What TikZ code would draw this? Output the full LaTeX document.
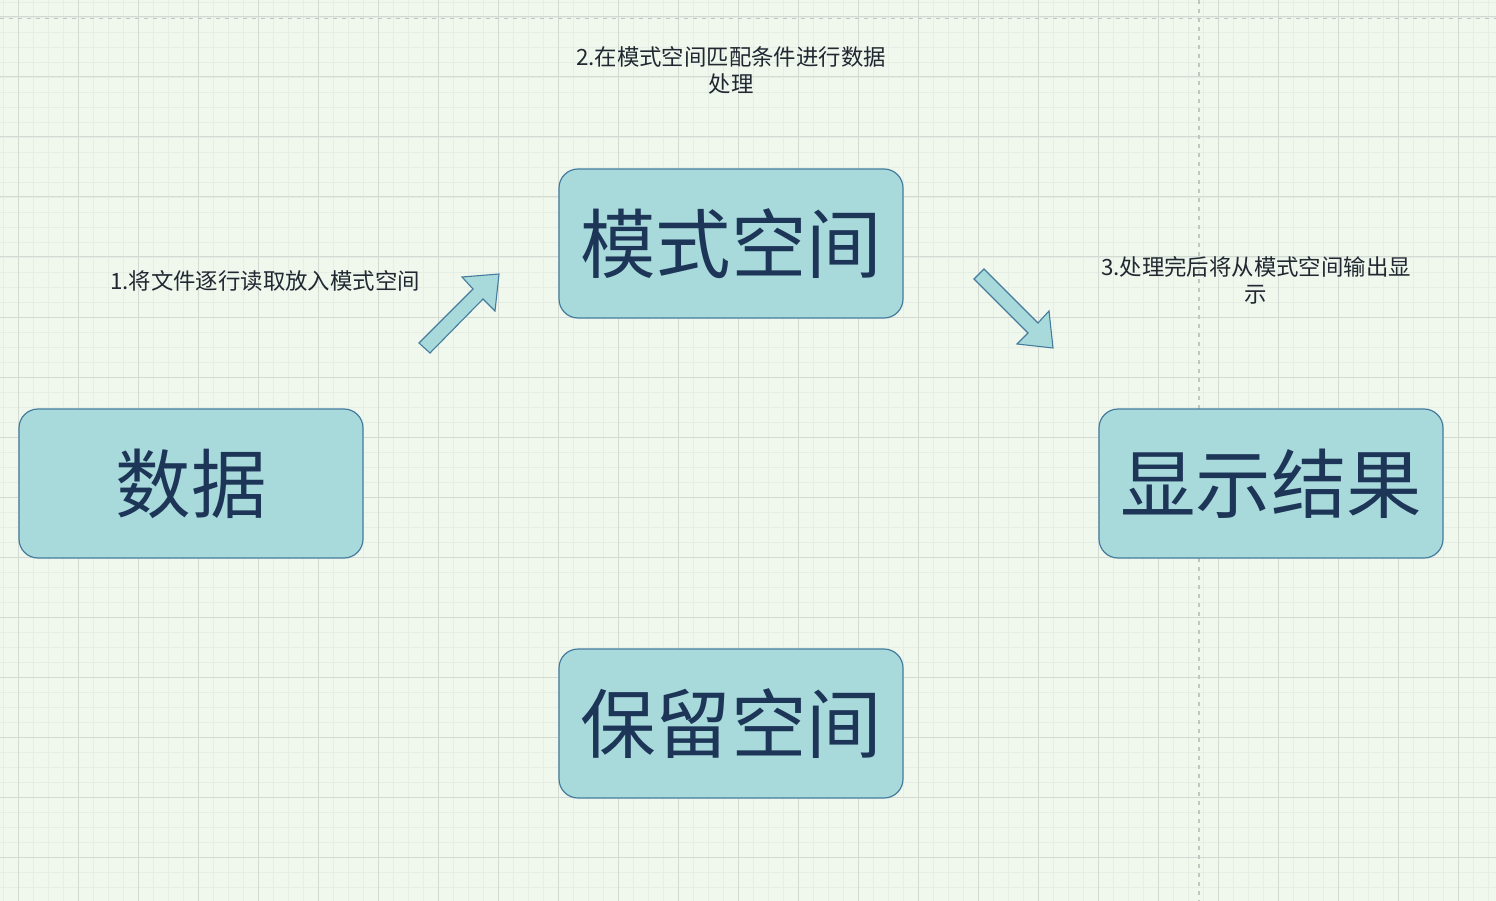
\documentclass[tikz,border=0pt]{standalone}
\usepackage{fontspec}
\setmainfont{Noto Sans CJK SC}
\definecolor{bg}{HTML}{F0F8EE}
\definecolor{minorline}{HTML}{E5EEE4}
\definecolor{majorline}{HTML}{D3DAD3}
\definecolor{dashline}{HTML}{C2C6C2}
\definecolor{boxfill}{HTML}{A8DADC}
\definecolor{boxline}{HTML}{457B9D}
\definecolor{boxtext}{HTML}{1D3557}
\definecolor{lbltext}{HTML}{222831}
\begin{document}
\begin{tikzpicture}[x=1pt,y=-1pt,
  box/.style={draw=boxline, fill=boxfill, line width=1.2pt, rounded corners=19pt,
    minimum width=344pt, minimum height=149pt, inner sep=0pt,
    font=\fontsize{75.5}{80}\selectfont, text=boxtext},
  lbl/.style={font=\fontsize{22.4}{27}\selectfont, text=lbltext, align=center, inner sep=0pt},
  blockarrow/.style={draw=boxline, fill=boxfill, line width=1.1pt, line join=miter},
  minorgrid/.style={draw=minorline, line width=0.8pt},
  majorgrid/.style={draw=majorline, line width=1pt},
  guide/.style={draw=dashline, line width=1.2pt, dash pattern=on 4pt off 5pt}]
% background
\fill[bg] (0,0) rectangle (1496,901);
\useasboundingbox (0,0) rectangle (1496,901);
% minor grid
\foreach \x in {3,18,...,1496} \draw[minorgrid] (\x,0) -- (\x,901);
\foreach \y in {2,17,...,901} \draw[minorgrid] (0,\y) -- (1496,\y);
% major grid
\foreach \x in {18,78,...,1496} \draw[majorgrid] (\x,0) -- (\x,901);
\foreach \y in {17,77,...,901} \draw[majorgrid] (0,\y) -- (1496,\y);
% guides
\draw[guide] (0,18.5) -- (1496,18.5);
\draw[guide] (1199,0) -- (1199,901);
% boxes
\node[box] (data) at (191,483.5) {数据};
\node[box] (pattern) at (731,243.5) {模式空间};
\node[box] (result) at (1271,483.5) {显示结果};
\node[box] (hold) at (731,723.5) {保留空间};
% labels
\node[lbl] (l1) at (265,281) {1.将文件逐行读取放入模式空间};
\node[lbl] (l2) at (731,70.5) {2.在模式空间匹配条件进行数据\\处理};
\node[lbl] (l3) at (1256,280.5) {3.处理完后将从模式空间输出显\\示};
% block arrows
\draw[blockarrow] (419,343) -- (473,289) -- (462,277) -- (499,274) -- (495,311) -- (483,299) -- (430,353) -- cycle;
\draw[blockarrow] (984,269) -- (1038,323) -- (1049,311) -- (1053,348) -- (1017,344) -- (1028,333) -- (974,279) -- cycle;
\end{tikzpicture}
\end{document}
